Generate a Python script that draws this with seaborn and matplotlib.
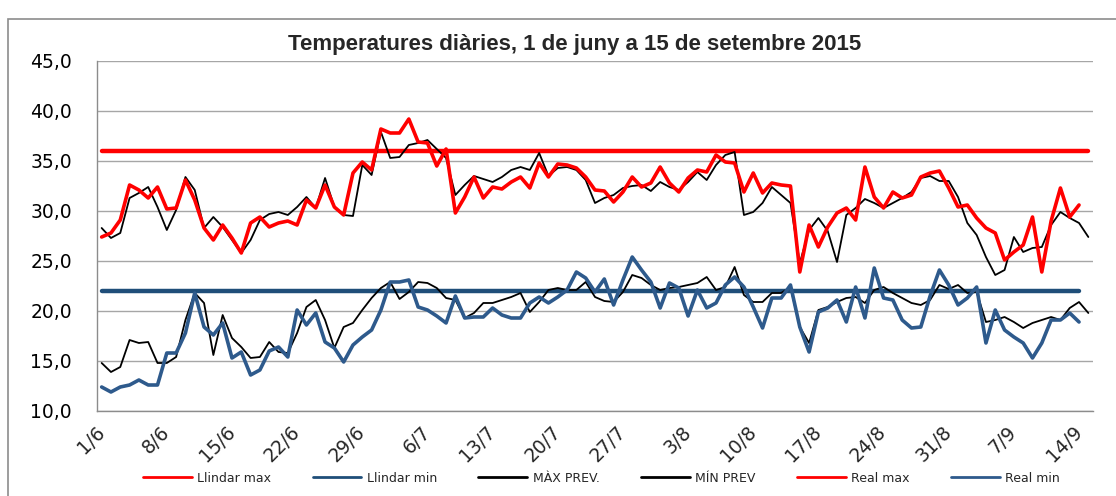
import numpy as np
import pandas as pd
import matplotlib
matplotlib.use("Agg")
import matplotlib.pyplot as plt
import seaborn as sns
from matplotlib.ticker import FuncFormatter, MultipleLocator
from matplotlib.patches import Rectangle
from matplotlib.lines import Line2D

# ── Data ─────────────────────────────────────────────────────────────────────
DATES = pd.date_range("2015-06-01", "2015-09-15", freq="D")
TICK_LABELS = ["1/6", "8/6", "15/6", "22/6", "29/6", "6/7", "13/7", "20/7",
               "27/7", "3/8", "10/8", "17/8", "24/8", "31/8", "7/9", "14/9"]

LLINDAR_MAX = 36.0
LLINDAR_MIN = 22.0

MAX_PREV = [28.3, 27.3, 27.8, 31.3, 31.8, 32.4, 30.4, 28.1, 30.1, 33.4,
            32.1, 28.3, 29.4, 28.4, 27.1, 25.8, 27.1, 29.1, 29.7, 29.9,
            29.6, 30.4, 31.4, 30.3, 33.3, 30.4, 29.6, 29.5, 34.6, 33.6,
            37.9, 35.3, 35.4, 36.6, 36.8, 37.1, 36.2, 35.3, 31.6, 32.6,
            33.5, 33.2, 32.9, 33.4, 34.1, 34.4, 34.1, 35.8, 33.5, 34.3,
            34.4, 34.1, 33.1, 30.8, 31.3, 31.6, 32.3, 32.5, 32.6, 32.0,
            32.9, 32.4, 32.1, 32.9, 33.9, 33.1, 34.6, 35.6, 35.9, 29.6,
            29.9, 30.8, 32.4, 31.6, 30.8, 24.8, 28.1, 29.3, 28.0, 24.9,
            29.6, 30.3, 31.2, 30.8, 30.3, 30.8, 31.3, 31.9, 33.3, 33.5,
            33.0, 33.0, 31.4, 28.8, 27.6, 25.4, 23.6, 24.1, 27.4, 25.9,
            26.3, 26.4, 28.6, 29.9, 29.3, 28.8, 27.4]

MIN_PREV = [14.8, 13.9, 14.4, 17.1, 16.8, 16.9, 14.8, 14.8, 15.4, 19.1,
            21.8, 20.8, 15.6, 19.6, 17.3, 16.4, 15.3, 15.4, 16.9, 15.9,
            15.8, 17.8, 20.4, 21.1, 19.1, 16.3, 18.4, 18.8, 20.1, 21.3,
            22.3, 22.9, 21.2, 21.9, 22.9, 22.8, 22.3, 21.3, 21.1, 19.3,
            19.8, 20.8, 20.8, 21.1, 21.4, 21.8, 19.9, 20.9, 22.1, 22.3,
            22.1, 22.1, 22.9, 21.4, 21.0, 20.9, 21.9, 23.6, 23.3, 22.6,
            22.1, 22.3, 22.4, 22.6, 22.8, 23.4, 22.1, 22.4, 24.4, 21.6,
            20.9, 20.9, 21.8, 21.8, 22.4, 18.4, 16.8, 20.1, 20.4, 20.9,
            21.3, 21.4, 20.8, 22.1, 22.4, 21.8, 21.3, 20.8, 20.6, 21.1,
            22.6, 22.2, 22.6, 21.8, 21.9, 18.9, 19.1, 19.4, 18.9, 18.3,
            18.8, 19.1, 19.4, 19.1, 20.3, 20.9, 19.8]

REAL_MAX = [27.4, 27.8, 29.1, 32.6, 32.1, 31.3, 32.4, 30.2, 30.3, 33.1,
            31.1, 28.3, 27.1, 28.6, 27.3, 25.8, 28.8, 29.4, 28.4, 28.8,
            29.0, 28.6, 31.1, 30.3, 32.6, 30.4, 29.6, 33.8, 34.9, 34.1,
            38.2, 37.8, 37.8, 39.2, 36.9, 36.8, 34.5, 36.2, 29.8, 31.4,
            33.4, 31.3, 32.4, 32.2, 32.9, 33.4, 32.3, 34.8, 33.4, 34.7,
            34.6, 34.3, 33.4, 32.1, 32.0, 30.9, 31.9, 33.4, 32.4, 32.8,
            34.4, 32.8, 31.9, 33.3, 34.1, 33.9, 35.6, 34.9, 34.8, 31.9,
            33.8, 31.8, 32.8, 32.6, 32.5, 23.9, 28.6, 26.4, 28.4, 29.8,
            30.3, 29.1, 34.4, 31.4, 30.3, 31.9, 31.3, 31.6, 33.4, 33.8,
            34.0, 32.3, 30.4, 30.6, 29.3, 28.3, 27.8, 25.1, 25.9, 26.6,
            29.4, 23.9, 29.0, 32.3, 29.4, 30.6]

REAL_MIN = [12.4, 11.9, 12.4, 12.6, 13.1, 12.6, 12.6, 15.8, 15.8, 17.8,
            21.8, 18.4, 17.6, 18.8, 15.3, 15.9, 13.6, 14.1, 16.0, 16.4,
            15.4, 20.1, 18.6, 19.8, 16.9, 16.3, 14.9, 16.6, 17.4, 18.1,
            20.1, 22.9, 22.9, 23.1, 20.4, 20.1, 19.5, 18.8, 21.5, 19.3,
            19.4, 19.4, 20.3, 19.6, 19.3, 19.3, 20.8, 21.4, 20.8, 21.4,
            22.1, 23.9, 23.3, 21.9, 23.2, 20.6, 23.1, 25.4, 24.1, 22.9,
            20.3, 22.8, 22.3, 19.5, 22.1, 20.3, 20.8, 22.6, 23.4, 22.4,
            20.4, 18.3, 21.3, 21.3, 22.6, 18.4, 15.9, 19.9, 20.3, 21.1,
            18.9, 22.4, 19.3, 24.3, 21.3, 21.1, 19.1, 18.3, 18.4, 21.5,
            24.1, 22.6, 20.6, 21.3, 22.4, 16.8, 20.1, 18.1, 17.4, 16.8,
            15.3, 16.8, 19.1, 19.1, 19.8, 18.9]

RED = "#FF0000"
BLUE_THR = "#1F4E79"
BLUE = "#2E5A8C"
GREY = "#8C8C8C"

# ── Table ────────────────────────────────────────────────────────────────────
df = pd.DataFrame({"dia": np.arange(len(DATES)), "max_prev": MAX_PREV, "min_prev": MIN_PREV})
df["real_max"] = pd.Series(REAL_MAX, dtype=float)
df["real_min"] = pd.Series(REAL_MIN, dtype=float)
df["llindar_max"] = LLINDAR_MAX
df["llindar_min"] = np.where(df["real_min"].notna(), LLINDAR_MIN, np.nan)

sns.set_theme(style="white")
plt.rcParams["font.family"] = ["DejaVu Sans"]

fig = plt.figure(figsize=(11.16, 4.96), dpi=100)
ax = fig.add_axes([97 / 1116, 1 - 411 / 496, (1093 - 97) / 1116, 350 / 496])

series = [
    ("llindar_max", RED, 3.2),
    ("llindar_min", BLUE_THR, 3.2),
    ("max_prev", "black", 1.3),
    ("min_prev", "black", 1.3),
    ("real_max", RED, 2.6),
    ("real_min", BLUE, 2.6),
]
for col, color, lw in series:
    sns.lineplot(data=df, x="dia", y=col, color=color, linewidth=lw, ax=ax,
                 solid_capstyle="round")

# ── Axes ─────────────────────────────────────────────────────────────────────
ax.set_ylim(10, 45)
ax.set_xlim(-0.5, len(DATES) - 0.5)
ax.yaxis.set_major_locator(MultipleLocator(5))
ax.yaxis.set_major_formatter(FuncFormatter(lambda v, p: f"{v:.1f}".replace(".", ",")))
ax.grid(axis="y", color="#A6A6A6", linewidth=1)
ax.grid(axis="x", visible=False)
ax.set_axisbelow(True)

# tick marks between categories, labels centred on the category
label_pos = df["dia"].iloc[::7]
ax.set_xticks(label_pos - 0.5)
ax.set_xticklabels([])
ax.set_xticks(label_pos, minor=True)
ax.set_xticklabels(TICK_LABELS, minor=True, rotation=45, ha="right", va="center",
                   rotation_mode="anchor")
ax.tick_params(axis="x", which="minor", length=0, pad=13, labelsize=13.5)
ax.tick_params(axis="both", which="major", direction="out", length=6, width=1,
               color=GREY, labelsize=13.5, labelcolor="black")
ax.tick_params(axis="y", pad=12)
ax.set_xlabel("")
ax.set_ylabel("")
for s in ["top", "right"]:
    ax.spines[s].set_visible(False)
for s in ["left", "bottom"]:
    ax.spines[s].set_color(GREY)
    ax.spines[s].set_linewidth(1)

fig.text(0.515, 1 - 50 / 496, "Temperatures diàries, 1 de juny a 15 de setembre 2015",
         ha="center", va="baseline", fontsize=16, fontweight="bold",
         family=["Liberation Sans", "DejaVu Sans"])

labels = ["Llindar max", "Llindar min", "MÀX PREV.", "MÍN PREV", "Real max", "Real min"]
handles = [Line2D([], [], color=c, linewidth=2) for _, c, _ in series]
fig.legend(handles, labels, loc="center", bbox_to_anchor=(0.539, 1 - 478 / 496),
           ncol=6, frameon=False, fontsize=9, handlelength=3.9, handletextpad=0.45,
           columnspacing=3.3)

# chart-area border (right edge falls outside the picture)
fig.patches.append(Rectangle((8 / 1116, -0.1), 1.2, 1.1 - 19 / 496,
                             transform=fig.transFigure, fill=False,
                             edgecolor=GREY, linewidth=1.2))

fig.savefig("out.png", dpi=100)
